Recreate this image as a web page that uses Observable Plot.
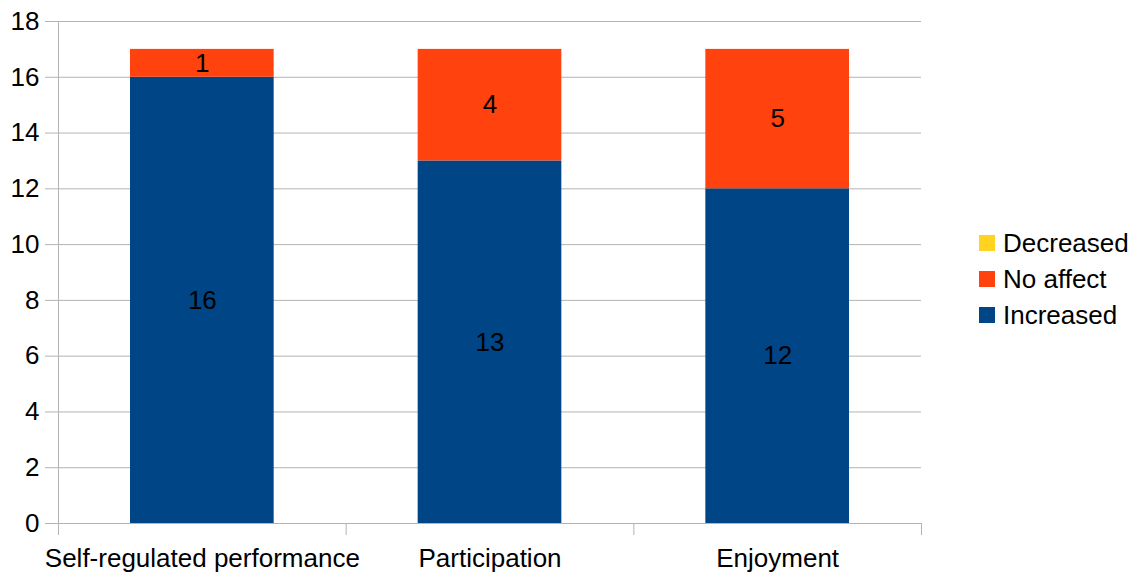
<!DOCTYPE html>
<html>
<head>
<meta charset="utf-8">
<script src="https://cdn.jsdelivr.net/npm/d3@7"></script>
<script src="https://cdn.jsdelivr.net/npm/@observablehq/plot@0.6"></script>
<style>
  body { margin: 0; background: #fff; font-family: "Liberation Sans", Arial, sans-serif; }
  #chart { position: relative; width: 1143px; height: 574px; overflow: hidden; }
  #legend { position: absolute; left: 979px; top: 225px; font-size: 26px; color: #000; }
  #legend .row { display: flex; align-items: center; height: 36px; white-space: nowrap; }
  #legend .sw { width: 16px; height: 16px; margin-right: 8px; flex: none; }
</style>
</head>
<body>
<div id="chart"></div>
<script>
// Survey responses per aspect
const categories = ["Self-regulated performance", "Participation", "Enjoyment"];
const increased = [16, 13, 12];
const noAffect = [1, 4, 5];
const decreased = [0, 0, 0];

// Legend order (top to bottom) and palette
const seriesNames = ["Decreased", "No affect", "Increased"];
const seriesColors = ["#ffd320", "#ff420e", "#004586"];
const yTicks = [0, 2, 4, 6, 8, 10, 12, 14, 16, 18];

// Long table: one row per category and series, stacked Increased → No affect → Decreased
const stackOrder = ["Increased", "No affect", "Decreased"];
const valuesBySeries = {"Increased": increased, "No affect": noAffect, "Decreased": decreased};
const rows = [];
categories.forEach((c, i) => {
  for (const s of stackOrder) rows.push({i, i2: i + 1, category: c, series: s, value: valuesBySeries[s][i]});
});

const grid = "#b3b3b3";

const chart = Plot.plot({
  width: 1143,
  height: 574,
  marginLeft: 58,
  marginRight: 222,
  marginTop: 21,
  marginBottom: 51,
  style: {fontFamily: "'Liberation Sans', Arial, sans-serif", fontSize: "26px", color: "#000", background: "#fff"},
  x: {type: "linear", domain: [0, categories.length]},
  y: {domain: [0, 18]},
  color: {domain: seriesNames, range: seriesColors},
  marks: [
    // horizontal gridlines, extended left to form the y ticks
    Plot.ruleY(yTicks, {stroke: grid, strokeWidth: 1, insetLeft: -13}),
    // left axis line, extended down past the baseline
    Plot.ruleX([0], {stroke: grid, strokeWidth: 1, insetBottom: -12}),
    // category boundary ticks
    Plot.axisX({ticks: [1, 2, 3], tickSize: 12, stroke: grid, tickFormat: () => "", label: null}),
    // category labels
    Plot.axisX({ticks: categories.map((_, i) => i + 0.5), tickSize: 0, tickPadding: 25,
      tickFormat: d => categories[Math.floor(d)], fontSize: 26, fill: "#000", label: null}),
    // y tick labels
    Plot.axisY({ticks: yTicks, tickSize: 0, tickPadding: 19, fontSize: 26, fill: "#000", label: null}),
    // stacked bars
    Plot.rectY(rows, Plot.stackY({
      x1: "i", x2: "i2", y: "value", z: "series", fill: "series", order: stackOrder,
      insetLeft: 72, insetRight: 72
    })),
    // value labels centred in each segment
    Plot.text(rows, Plot.stackY({
      x: d => d.i + 0.5, y: "value", z: "series", order: stackOrder,
      text: d => d.value > 0 ? String(d.value) : "",
      fontSize: 26, fill: "#000"
    }))
  ]
});

const root = document.getElementById("chart");
root.appendChild(chart);

// Legend to the right of the plot
const legend = document.createElement("div");
legend.id = "legend";
seriesNames.forEach((name, k) => {
  const row = document.createElement("div");
  row.className = "row";
  const sw = document.createElement("span");
  sw.className = "sw";
  sw.style.background = seriesColors[k];
  const label = document.createElement("span");
  label.textContent = name;
  row.append(sw, label);
  legend.appendChild(row);
});
root.appendChild(legend);
</script>
</body>
</html>
